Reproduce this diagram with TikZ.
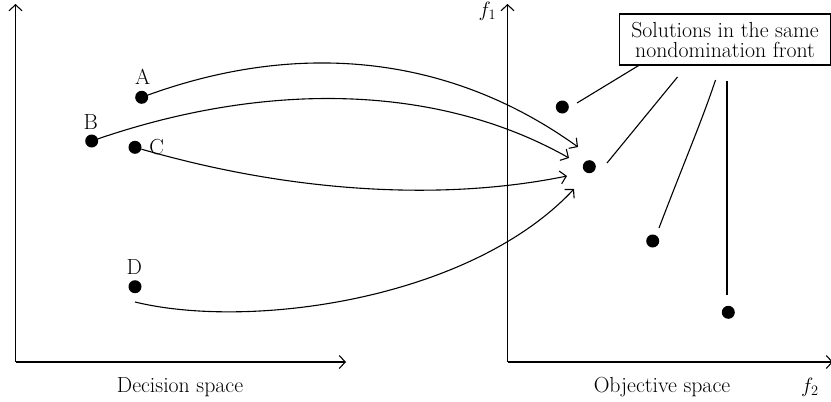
\documentclass[tikz,border=0pt]{standalone}
\usetikzlibrary{arrows.meta}
\begin{document}
\begin{tikzpicture}[x=1pt,y=-1pt,
  every node/.style={font=\fontsize{21.8}{20}\selectfont},
  ln/.style={line width=1.1pt},
  tip/.style={-{Straight Barb[length=6pt,width=13pt,line width=1.1pt]}},
  dot/.style={circle,fill=black,inner sep=0pt,minimum size=13pt},
  lbl/.style={inner sep=0pt}]
\useasboundingbox (0,0) rectangle (831,402);
% axes
\coordinate (o1) at (15.5,362);
\coordinate (y1) at (15.5,4);
\coordinate (x1) at (346,362);
\coordinate (o2) at (507.5,362);
\coordinate (y2) at (507.5,4);
\coordinate (x2) at (833,362);
\draw[ln,tip] (o1) -- (y1);
\draw[ln,tip] (o1) -- (x1);
\draw[ln,tip] (o2) -- (y2);
\draw[ln,tip] (o2) -- (x2);
\node[lbl,anchor=base] (ds) at (180,392) {Decision space};
\node[lbl,anchor=base] (os) at (662,392) {Objective space};
\node[lbl,anchor=base] (f2) at (810,392) {$f_2$};
\node[lbl,anchor=base] (f1) at (487.5,16) {$f_1$};
% decision points
\node[dot] (A) at (141.7,97.3) {};
\node[dot] (B) at (91.7,141) {};
\node[dot] (C) at (135,147.3) {};
\node[dot] (D) at (135,286.7) {};
\node[lbl] (lA) at (142.7,76.7) {A};
\node[lbl] (lB) at (90.7,121.7) {B};
\node[lbl] (lC) at (156.7,146.7) {C};
\node[lbl] (lD) at (134.3,266.7) {D};
% objective points
\node[dot] (P1) at (562.3,107) {};
\node[dot] (P2) at (589.3,166.7) {};
\node[dot] (P3) at (652.7,241) {};
\node[dot] (P4) at (728.3,312.3) {};
% box
\node[draw,line width=1.1pt,minimum width=211pt,minimum height=51pt,align=center,inner sep=0pt]
  (box) at (725,39.5) {Solutions in the same\\nondomination front};
% mapping arrows
\coordinate (tA) at (578,147);
\coordinate (tB) at (569,158);
\coordinate (tC) at (567,176);
\coordinate (tD) at (574,189);
\coordinate (dS) at (135,302);
\draw[ln,tip] (A) .. controls (300,40) and (450,55) .. (tA);
\draw[ln,tip] (B) .. controls (270,80) and (440,85) .. (tB);
\draw[ln,tip] (C) .. controls (300,195) and (450,200) .. (tC);
\draw[ln,tip] (dS) .. controls (250,330) and (470,300) .. (tD);
% leader lines
\coordinate (a1) at (577,103);
\coordinate (b1) at (639.5,65);
\coordinate (a2) at (607,163);
\coordinate (b2) at (677.5,77);
\coordinate (a3) at (659,228);
\coordinate (b3) at (715.5,80);
\coordinate (a4) at (727,295);
\coordinate (b4) at (727,80.5);
\draw[ln] (a1) -- (b1);
\draw[ln] (a2) -- (b2);
\draw[ln] (a3) .. controls (683,165) and (703,118) .. (b3);
\draw[ln] (a4) -- (b4);
\end{tikzpicture}
\end{document}
